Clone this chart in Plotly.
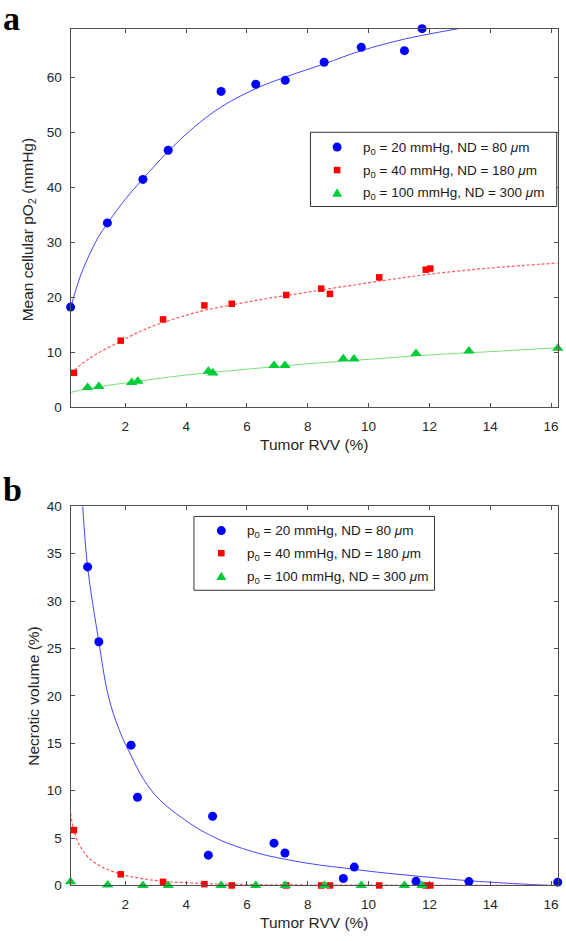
import plotly.graph_objects as go

W, H = 566, 941

# ---------------- Panel a: Mean cellular pO2 ----------------
a_blue_x = [0.2, 1.41, 2.58, 3.41, 5.15, 6.29, 7.26, 8.54, 9.76, 11.18, 11.76]
a_blue_y = [18.2, 33.5, 41.4, 46.7, 57.4, 58.7, 59.4, 62.7, 65.4, 64.8, 68.8]
a_red_x = [0.31, 1.85, 3.24, 4.60, 5.50, 7.29, 8.44, 8.73, 10.35, 11.88, 12.03]
a_red_y = [6.25, 12.1, 15.96, 18.5, 18.8, 20.4, 21.55, 20.6, 23.6, 25.0, 25.2]
a_green_x = [0.76, 1.13, 2.21, 2.41, 4.73, 4.88, 6.89, 7.25, 9.17, 9.52, 11.56, 13.3, 16.22]
a_green_y = [3.57, 3.75, 4.5, 4.7, 6.55, 6.2, 7.6, 7.6, 8.8, 8.75, 9.77, 10.2, 10.7]

# fitted curves
a_blue_fit_x = [0.2, 0.5, 0.8, 1.1, 1.41, 2.0, 2.58, 3.41, 4.24, 5.16, 6.29, 7.26, 8.54, 9.76, 11.18, 12.95]
a_blue_fit_y = [18.0, 23.5, 27.5, 30.8, 33.4, 37.8, 41.5, 46.5, 50.8, 54.6, 57.9, 60.0, 62.4, 64.8, 66.9, 68.8]
a_red_fit_x = [0.2, 0.6, 1.0, 1.85, 2.5, 3.24, 4.0, 4.6, 5.5, 6.5, 7.29, 8.44, 10.35, 12.03, 14.0, 16.22]
a_red_fit_y = [6.2, 8.0, 9.5, 12.0, 13.8, 15.4, 16.7, 17.6, 18.6, 19.6, 20.3, 21.3, 22.9, 24.2, 25.3, 26.2]
a_green_fit_x = [0.2, 1.0, 2.0, 4.0, 6.0, 8.0, 10.0, 12.0, 14.0, 16.22]
a_green_fit_y = [2.7, 3.6, 4.4, 5.85, 6.9, 7.9, 8.7, 9.5, 10.1, 10.8]

# ---------------- Panel b: Necrotic volume ----------------
b_blue_x = [0.76, 1.13, 2.19, 2.40, 4.73, 4.87, 6.89, 7.25, 9.17, 9.53, 11.56, 13.3, 16.22]
b_blue_y = [33.6, 25.7, 14.8, 9.3, 3.2, 7.3, 4.46, 3.42, 0.73, 1.94, 0.45, 0.41, 0.35]
b_red_x = [0.31, 1.85, 3.24, 4.60, 5.50, 7.29, 8.44, 8.73, 10.35, 11.88, 12.03]
b_red_y = [5.84, 1.18, 0.38, 0.14, 0.0, 0.0, 0.0, 0.0, 0.0, 0.0, 0.0]
b_green_x = [0.2, 1.42, 2.58, 3.41, 5.15, 6.29, 7.26, 8.55, 9.76, 11.18, 11.76]
b_green_y = [0.38, 0.05, 0.0, 0.0, 0.0, 0.0, 0.0, 0.0, 0.0, 0.0, 0.0]

b_blue_fit_x = [0.6, 0.76, 1.13, 1.44, 1.8, 2.19, 2.6, 3.14, 4.24, 4.73, 5.33, 6.43, 7.53, 8.4, 9.17, 10.3, 11.56, 13.3, 14.5, 16.0]
b_blue_fit_y = [40.0, 33.6, 25.7, 20.0, 16.4, 13.7, 11.2, 9.0, 6.3, 5.4, 4.5, 3.35, 2.6, 2.15, 1.85, 1.4, 1.0, 0.5, 0.25, 0.0]
b_red_fit_x = [0.2, 0.31, 0.5, 0.8, 1.2, 1.85, 2.5, 3.24, 4.6, 6.0, 8.0, 12.0, 16.22]
b_red_fit_y = [7.6, 5.8, 4.2, 2.9, 2.0, 1.2, 0.75, 0.45, 0.2, 0.1, 0.05, 0.02, 0.0]
b_green_fit_x = [0.2, 16.22]
b_green_fit_y = [0.0, 0.0]

x_range = [0.2, 16.22]
x_ticks = [2, 4, 6, 8, 10, 12, 14, 16]
a_y_ticks = [0, 10, 20, 30, 40, 50, 60]
b_y_ticks = [0, 5, 10, 15, 20, 25, 30, 35, 40]

labels = [
    "p<sub>0</sub> = 20 mmHg, ND = 80 <i>\u03bc</i>m",
    "p<sub>0</sub> = 40 mmHg, ND = 180 <i>\u03bc</i>m",
    "p<sub>0</sub> = 100 mmHg, ND = 300 <i>\u03bc</i>m",
]

BLUE = "#0000ff"
RED = "#ff0000"
GREEN = "#00cc3a"
BLUE_L = "rgb(70,70,255)"
RED_L = "rgb(255,90,90)"
GREEN_L = "rgb(120,225,120)"

fig = go.Figure()

def add_panel(xa, ya, bx, by, rx, ry, gx, gy, bfx, bfy, rfx, rfy, gfx, gfy):
    fig.add_trace(go.Scatter(x=bfx, y=bfy, mode="lines", line=dict(color=BLUE_L, width=1, shape="spline"),
                             xaxis=xa, yaxis=ya, showlegend=False, hoverinfo="skip"))
    fig.add_trace(go.Scatter(x=rfx, y=rfy, mode="lines", line=dict(color=RED_L, width=1.2, dash="3px,2px", shape="spline"),
                             xaxis=xa, yaxis=ya, showlegend=False, hoverinfo="skip"))
    fig.add_trace(go.Scatter(x=gfx, y=gfy, mode="lines", line=dict(color=GREEN_L, width=1, shape="spline"),
                             xaxis=xa, yaxis=ya, showlegend=False, hoverinfo="skip"))
    fig.add_trace(go.Scatter(x=bx, y=by, mode="markers", name=labels[0],
                             marker=dict(symbol="circle", size=9, color=BLUE, line=dict(width=0)),
                             xaxis=xa, yaxis=ya, showlegend=False, cliponaxis=False))
    fig.add_trace(go.Scatter(x=rx, y=ry, mode="markers", name=labels[1],
                             marker=dict(symbol="square", size=6.5, color=RED, line=dict(width=0)),
                             xaxis=xa, yaxis=ya, showlegend=False, cliponaxis=False))
    fig.add_trace(go.Scatter(x=gx, y=gy, mode="markers", name=labels[2],
                             marker=dict(symbol="triangle-up", size=10, color=GREEN, line=dict(width=0)),
                             xaxis=xa, yaxis=ya, showlegend=False, cliponaxis=False))

add_panel("x", "y", a_blue_x, a_blue_y, a_red_x, a_red_y, a_green_x, a_green_y,
          a_blue_fit_x, a_blue_fit_y, a_red_fit_x, a_red_fit_y, a_green_fit_x, a_green_fit_y)
add_panel("x2", "y2", b_blue_x, b_blue_y, b_red_x, b_red_y, b_green_x, b_green_y,
          b_blue_fit_x, b_blue_fit_y, b_red_fit_x, b_red_fit_y, b_green_fit_x, b_green_fit_y)

def px_x(p):
    return p / W

def px_y(p):
    return 1 - p / H

AX_COL = "#505050"
TICK_FONT = dict(family="Liberation Sans, Arial, sans-serif", size=13.5, color="#262626")

common_x = dict(range=x_range, tickvals=x_ticks, ticks="inside", ticklen=4, tickwidth=1,
                tickcolor=AX_COL, showline=True, linecolor=AX_COL, linewidth=1.2, mirror="ticks",
                showgrid=False, zeroline=False, tickfont=TICK_FONT, ticklabeloverflow="allow",
                ticklabelstandoff=6, domain=[px_x(70.7), px_x(558.7)])
common_y = dict(ticks="inside", ticklen=4, tickwidth=1, tickcolor=AX_COL, showline=True,
                linecolor=AX_COL, linewidth=1.2, mirror="ticks", showgrid=False, zeroline=False,
                tickfont=TICK_FONT, ticklabelstandoff=5)

fig.update_layout(
    width=W, height=H,
    margin=dict(l=0, r=0, t=0, b=0),
    paper_bgcolor="white", plot_bgcolor="white",
    showlegend=False,
    xaxis=dict(common_x, anchor="y"),
    yaxis=dict(common_y, range=[0, 68.8], tickvals=a_y_ticks, anchor="x",
               domain=[px_y(406.7), px_y(22)]),
    xaxis2=dict(common_x, anchor="y2"),
    yaxis2=dict(common_y, range=[0, 40], tickvals=b_y_ticks, anchor="x2",
                domain=[px_y(892.7), px_y(507.3)]),
)

# ---- manual legends (box, glyphs, labels) ----
LEG_FONT = dict(family="Liberation Sans, Arial, sans-serif", size=13.5, color="#1a1a1a")

def add_legend(x0, x1, y0, y1, sym_x, text_x, rows):
    fig.add_shape(type="rect", xref="paper", yref="paper",
                  x0=px_x(x0), x1=px_x(x1), y0=px_y(y1), y1=px_y(y0),
                  line=dict(color="#333333", width=1), fillcolor="white", layer="above")
    r = 4.5
    cy = rows[0]
    fig.add_shape(type="circle", xref="paper", yref="paper",
                  x0=px_x(sym_x - r), x1=px_x(sym_x + r), y0=px_y(cy + r), y1=px_y(cy - r),
                  line=dict(width=0), fillcolor=BLUE, layer="above")
    s = 3.3
    cy = rows[1]
    fig.add_shape(type="rect", xref="paper", yref="paper",
                  x0=px_x(sym_x - s), x1=px_x(sym_x + s), y0=px_y(cy + s), y1=px_y(cy - s),
                  line=dict(width=0), fillcolor=RED, layer="above")
    cy = rows[2]
    path = "M {} {} L {} {} L {} {} Z".format(
        px_x(sym_x - 5), px_y(cy + 4), px_x(sym_x + 5), px_y(cy + 4), px_x(sym_x), px_y(cy - 4.5))
    fig.add_shape(type="path", xref="paper", yref="paper", path=path,
                  line=dict(width=0), fillcolor=GREEN, layer="above")
    for lab, cy in zip(labels, rows):
        fig.add_annotation(xref="paper", yref="paper", showarrow=False, text=lab,
                           x=px_x(text_x), y=px_y(cy + 1), xanchor="left", yanchor="middle",
                           font=LEG_FONT)

add_legend(311, 557.7, 127.3, 202.7, 337.7, 361.5, [142.3, 165.7, 188.7])
add_legend(194.3, 435.3, 517.7, 592.7, 221.7, 245.5, [532, 555, 578.3])

TITLE_FONT = dict(family="Liberation Sans, Arial, sans-serif", size=15.5, color="#262626")
ann = [
    dict(text="Mean cellular pO<sub>2</sub> (mmHg)", x=px_x(28), y=px_y(226), textangle=-90,
         font=TITLE_FONT),
    dict(text="Tumor RVV (%)", x=px_x(315), y=px_y(445), font=TITLE_FONT),
    dict(text="Necrotic volume (%)", x=px_x(34), y=px_y(700), textangle=-90, font=TITLE_FONT),
    dict(text="Tumor RVV (%)", x=px_x(315), y=px_y(930), font=TITLE_FONT),
    dict(text="<b>a</b>", x=px_x(12), y=px_y(12), font=dict(family="Liberation Serif, Times New Roman, serif", size=34, color="black")),
    dict(text="<b>b</b>", x=px_x(13), y=px_y(490), font=dict(family="Liberation Serif, Times New Roman, serif", size=34, color="black")),
]
for a in ann:
    fig.add_annotation(xref="paper", yref="paper", showarrow=False, xanchor="center", yanchor="middle", **a)

fig.write_html("out.html", config={"displayModeBar": False},
               post_script="document.body.style.margin='0';document.body.style.overflow='hidden';")
